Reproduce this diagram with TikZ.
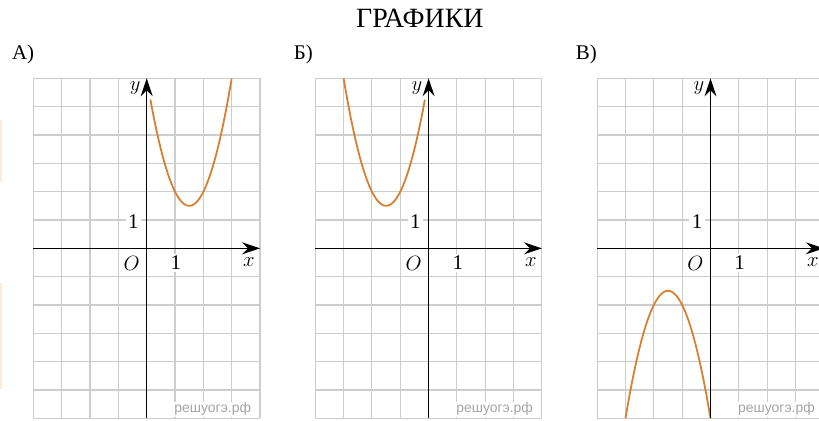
\documentclass[tikz,border=0pt]{standalone}
\usepackage{fontspec}
\setmainfont{Liberation Serif}
\newfontfamily\wmfont{Liberation Sans}
\usetikzlibrary{arrows.meta}

\definecolor{gridgray}{RGB}{205,205,205}
\definecolor{curveorange}{RGB}{214,128,48}
\definecolor{peach}{RGB}{253,236,222}
\definecolor{wmgray}{RGB}{165,165,165}

\begin{document}
\begin{tikzpicture}[>={Stealth[length=18pt,width=12pt,inset=6pt]},
  axis/.style={line width=1.5pt, ->},
  gridline/.style={gridgray, line width=1.1pt},
  graph/.style={curveorange, line width=1.8pt},
  lbl/.style={inner sep=0pt, font=\fontsize{21}{25}\selectfont},
  one/.style={lbl, fill=white, inner sep=2.5pt},
  wm/.style={text=wmgray, fill=white, inner sep=1pt, font=\wmfont\fontsize{14}{16}\selectfont}]

  \useasboundingbox (-5.178,-6.06) rectangle (23.73,8.765);

  % Title
  \node[anchor=base, font=\fontsize{28}{33}\selectfont] (title) at (9.64,7.80) {ГРАФИКИ};

  % Marks at the left edge
  \fill[peach] (-5.178,4.53) rectangle (-5.107,2.34);
  \fill[peach] (-5.178,-1.22) rectangle (-5.107,-4.97);

  % Panels: grid, axes, labels
  \foreach \p/\dx/\name in {a/0/А, b/9.95/Б, c/19.9/В} {
    \begin{scope}[xshift=\dx cm]
      \draw[gridline] (-4,-6) grid (4,6);

      \coordinate (\p-left) at (-4,0);
      \coordinate (\p-right) at (4,0);
      \coordinate (\p-bottom) at (0,-6);
      \coordinate (\p-top) at (0,6);

      \node[lbl, anchor=base west] (\p-lbl) at (-4.76,6.68) {\name)};
      \node[lbl] (\p-y) at (-0.41,5.66) {$y$};
      \node[lbl] (\p-x) at (3.61,-0.47) {$x$};
      \node[lbl] (\p-o) at (-0.53,-0.53) {$O$};
      \node[one] (\p-onex) at (1.03,-0.52) {1};
      \node[one] (\p-oney) at (-0.47,0.96) {1};
      \node[wm] (\p-wm) at (2.33,-5.68) {решуогэ.рф};
    \end{scope}
  }

  % Graphs
  \draw[graph] plot[domain=0.13:3, samples=80] (\x, {2*(\x-1.5)^2+1.5});
  \begin{scope}[xshift=9.95cm]
    \draw[graph] plot[domain=-3:-0.13, samples=80] (\x, {2*(\x+1.5)^2+1.5});
  \end{scope}
  \begin{scope}[xshift=19.9cm]
    \draw[graph] plot[domain=-3:0, samples=80] (\x, {-2*(\x+1.5)^2-1.5});
  \end{scope}

  % Axes
  \foreach \p in {a,b,c} {
    \draw[axis] (\p-left) -- (\p-right);
    \draw[axis] (\p-bottom) -- (\p-top);
  }

\end{tikzpicture}
\end{document}
